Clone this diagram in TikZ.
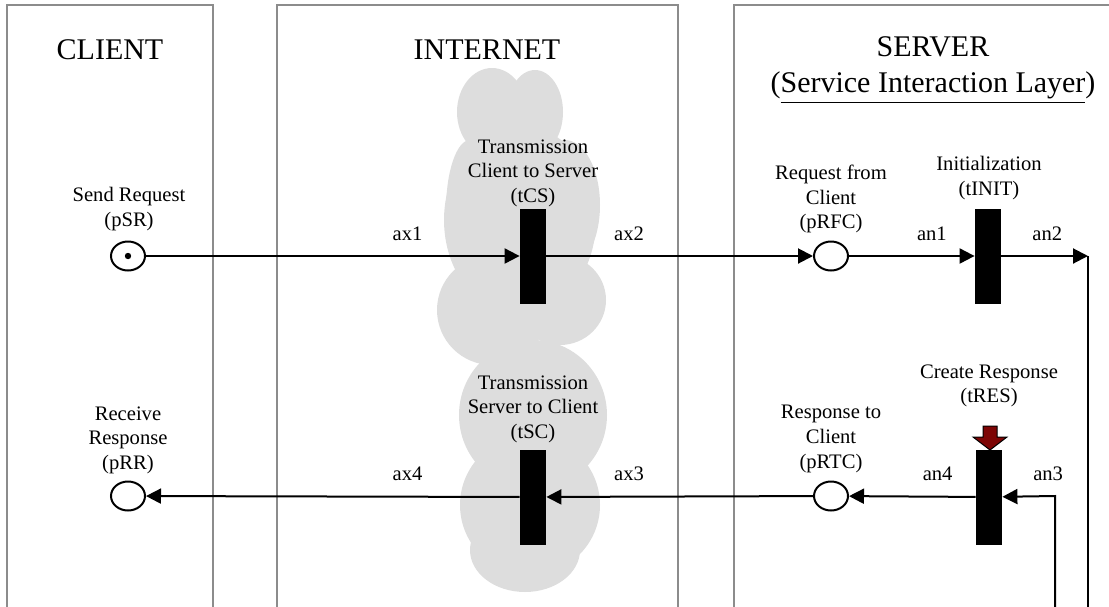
\documentclass[tikz,border=0pt]{standalone}
\usepackage{fontspec}
\setmainfont{Liberation Serif}
\usetikzlibrary{shapes.geometric, arrows.meta, positioning}
\definecolor{panelgray}{RGB}{140, 140, 140}
\definecolor{cloudgray}{RGB}{221, 221, 221}
\definecolor{tokenred}{RGB}{125, 5, 5}

\begin{document}
\begin{tikzpicture}[x=0.5pt, y=-0.5pt,
    panel/.style={draw=panelgray, line width=1pt},
    heading/.style={font=\fontsize{15}{18}\selectfont, align=center},
    place/.style={ellipse, draw, line width=1pt, minimum width=17pt,
                  minimum height=14.5pt, inner sep=0pt},
    trans/.style={rectangle, fill=black, minimum width=13pt,
                  minimum height=47.5pt, inner sep=0pt},
    lbl/.style={font=\fontsize{10.3}{12.3}\selectfont, align=center},
    arc/.style={-{Triangle[length=7.5pt, width=7.5pt]}, line width=1pt}]
    \useasboundingbox (0,0) rectangle (1109,606);

    % Panels
    \draw[panel] (7,612) -- (7,5) -- (213,5) -- (213,612);
    \draw[panel] (277,612) -- (277,5) -- (678,5) -- (678,612);
    \draw[panel] (734,612) -- (734,5) -- (1115,5);
    \node[heading] (client) at (110,50) {CLIENT};
    \node[heading] (internet) at (487,50) {INTERNET};
    \node[heading] (server) at (933,70) {SERVER\\(\underline{Service Interaction Layer})};

    % Cloud
    \fill[cloudgray] (492,112) ellipse [x radius=17.5pt, y radius=22pt];
    \fill[cloudgray] (535,112) ellipse [x radius=14pt, y radius=21pt];
    \fill[cloudgray] (520,220) ellipse [x radius=38pt, y radius=47.5pt];
    \fill[cloudgray] (565,205) ellipse [x radius=17.5pt, y radius=32.5pt];
    \fill[cloudgray] (470,210) ellipse [x radius=12pt, y radius=35pt];
    \fill[cloudgray] (492,310) ellipse [x radius=27.5pt, y radius=27.5pt];
    \fill[cloudgray] (560,300) ellipse [x radius=23pt, y radius=22.5pt];
    \fill[cloudgray] (533,415) ellipse [x radius=37pt, y radius=37.5pt];
    \fill[cloudgray] (530,505) ellipse [x radius=35pt, y radius=35pt];
    \fill[cloudgray] (525,550) ellipse [x radius=27.5pt, y radius=21pt];

    % Places
    \node[place] (pSR) at (128,256) {};
    \fill (pSR.center) circle (1.6pt);
    \node[place] (pRFC) at (831,256) {};
    \node[place] (pRTC) at (831,496) {};
    \node[place] (pRR) at (128,496) {};

    % Transitions
    \node[trans] (tCS) at (533,256) {};
    \node[trans] (tINIT) at (988,256) {};
    \node[trans] (tSC) at (533,497) {};
    \node[trans] (tRES) at (989,497) {};
    \draw[fill=tokenred, line width=0.5pt] (983,426) -- (997,426) -- (997,437)
        -- (1007,437) -- (990,450) -- (973,437) -- (983,437) -- cycle;

    % Labels
    \node[lbl] (pSRlbl) at (129,209) {Send Request\\(pSR)};
    \node[lbl] (tCSlbl) at (533,173) {Transmission\\Client to Server\\(tCS)};
    \node[lbl] (pRFClbl) at (831,199) {Request from\\Client\\(pRFC)};
    \node[lbl] (tINITlbl) at (989,178) {Initialization\\(tINIT)};
    \node[lbl] (tSClbl) at (533,409) {Transmission\\Server to Client\\(tSC)};
    \node[lbl] (tRESlbl) at (989,386) {Create Response\\(tRES)};
    \node[lbl] (pRTClbl) at (831,439) {Response to\\Client\\(pRTC)};
    \node[lbl] (pRRlbl) at (128,440) {Receive\\Response\\(pRR)};

    % Arcs
    \coordinate (c2) at (1088,256);
    \coordinate (c2bot) at (1088,612);
    \coordinate (c3) at (1055,496);
    \coordinate (c3bot) at (1055,612);
    \draw[arc] (pSR) -- node[lbl, pos=0.7, above=4pt] {ax1} (tCS);
    \draw[arc] (tCS) -- node[lbl, pos=0.31, above=4pt] {ax2} (pRFC);
    \draw[arc] (pRFC) -- node[lbl, pos=0.66, above=4pt] {an1} (tINIT);
    \draw[arc] (tINIT) -- node[lbl, pos=0.53, above=4pt] {an2} (c2);
    \draw[line width=1pt] (c2) -- (c2bot);
    \draw[arc] (c3bot) -- (c3) -- node[lbl, pos=0.13, above=4pt] {an3} (tRES);
    \draw[arc] (tRES) -- node[lbl, pos=0.3, above=4pt] {an4} (pRTC);
    \draw[arc] (pRTC) -- node[lbl, pos=0.69, above=4pt] {ax3} (tSC);
    \draw[arc] (tSC) -- node[lbl, pos=0.3, above=4pt] {ax4} (pRR);
\end{tikzpicture}
\end{document}
